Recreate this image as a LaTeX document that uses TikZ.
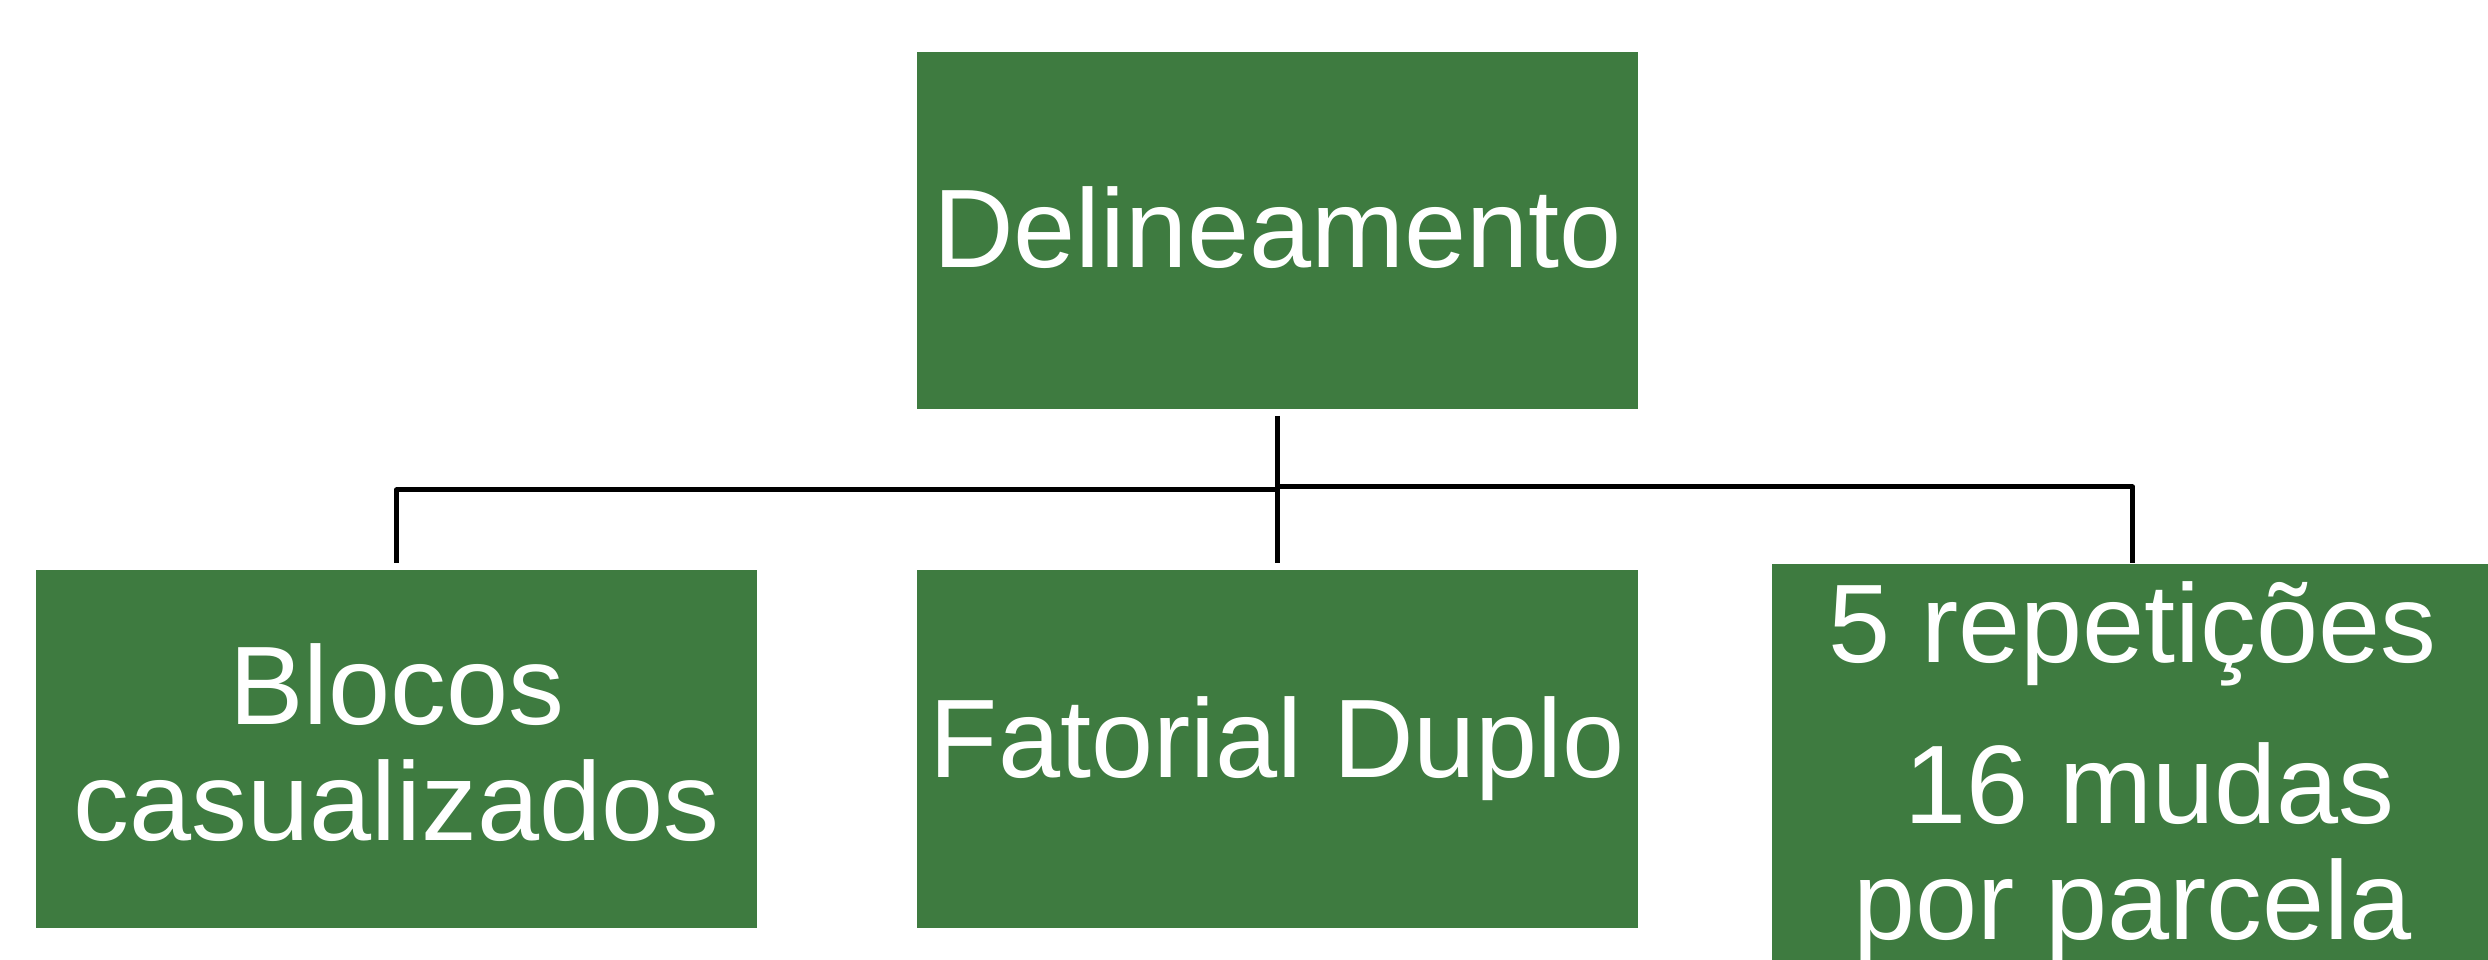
\documentclass[tikz,border=0pt]{standalone}
\usepackage{fontspec}
\setmainfont{Liberation Sans}
\usepackage{tikz}
\usetikzlibrary{positioning}
\definecolor{boxgreen}{RGB}{62,123,64}
\tikzset{
  greenbox/.style={rectangle, fill=boxgreen, draw=none, text=white, align=center,
    minimum width=7.21cm, minimum height=3.58cm, inner sep=0pt,
    font=\fontsize{31.75}{33}\selectfont},
  link/.style={line width=1.4pt, line join=round, draw=black},
}

\begin{document}
\begin{tikzpicture}[x=0.01cm, y=-0.01cm, node distance=1.59cm and 1.58cm]
  \useasboundingbox (0,0) rectangle (2488,959);
  \clip (0,0) rectangle (2488,959);
  \node[greenbox, minimum height=3.57cm, text depth=0.06cm] (delin) at (1277.5,230.5) {Delineamento};
  \node[greenbox, below=of delin] (fatorial) {Fatorial Duplo};
  \node[greenbox, left=of fatorial, text depth=0.13cm] (blocos) {Blocos\\casualizados};
  \node[greenbox, anchor=north west, minimum height=4.16cm] (repet)
    at ([xshift=1.32cm, yshift=0.06cm]fatorial.north east)
    {5 repetições\\[0.45cm]\hspace*{0.3em}16 mudas\\por parcela};

  % connectors
  \draw[link, shorten <=0.06cm, shorten >=0.06cm] (delin.south) -- (fatorial.north);
  \draw[link] ([yshift=-0.80cm]delin.south) -| ([yshift=0.06cm]blocos.north);
  \draw[link] ([yshift=-0.77cm]delin.south) -| (repet.north);
\end{tikzpicture}
\end{document}
